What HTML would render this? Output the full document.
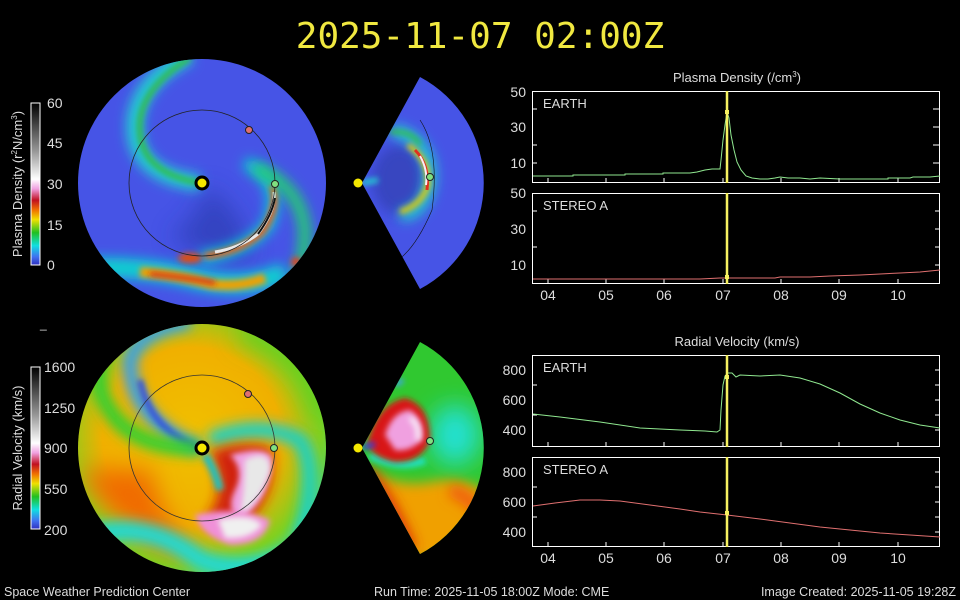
<!DOCTYPE html>
<html><head><meta charset="utf-8"><style>
html,body{margin:0;padding:0;background:#000;width:960px;height:600px;overflow:hidden}
svg{display:block}
text{font-family:"Liberation Sans",sans-serif;fill:#ddd}
</style></head><body>
<svg width="960" height="600" viewBox="0 0 960 600" xmlns="http://www.w3.org/2000/svg">
<defs>
<filter id="b3" filterUnits="userSpaceOnUse" x="0" y="0" width="960" height="600"><feGaussianBlur stdDeviation="3"/></filter>
<filter id="b6" filterUnits="userSpaceOnUse" x="0" y="0" width="960" height="600"><feGaussianBlur stdDeviation="6"/></filter>
<filter id="b12" filterUnits="userSpaceOnUse" x="0" y="0" width="960" height="600"><feGaussianBlur stdDeviation="12"/></filter>
<clipPath id="c1"><circle cx="202" cy="183" r="124"/></clipPath>
<clipPath id="c2"><circle cx="202" cy="448" r="124"/></clipPath>
<clipPath id="w1"><path d="M362,183 L420,77 A120,120 0 0 1 420,289 Z"/></clipPath>
<clipPath id="w2"><path d="M362,448 L420,342 A120,120 0 0 1 420,554 Z"/></clipPath>
<linearGradient id="cbd" x1="0" y1="0" x2="0" y2="1">
<stop offset="0" stop-color="#000"/><stop offset="0.3" stop-color="#999"/><stop offset="0.47" stop-color="#fff"/><stop offset="0.53" stop-color="#f0a0e0"/><stop offset="0.6" stop-color="#c01020"/><stop offset="0.66" stop-color="#f07000"/><stop offset="0.72" stop-color="#f0e000"/><stop offset="0.8" stop-color="#20c020"/><stop offset="0.88" stop-color="#10e0e0"/><stop offset="0.95" stop-color="#4070f0"/><stop offset="1" stop-color="#3030c0"/></linearGradient>
<radialGradient id="vbg" cx="0.45" cy="0.45" r="0.6"><stop offset="0" stop-color="#f0c000"/><stop offset="0.55" stop-color="#f0b000"/><stop offset="0.8" stop-color="#80d020"/><stop offset="1" stop-color="#20d8c0"/></radialGradient>
</defs>

<text x="480" y="48" text-anchor="middle" style="font-family:'DejaVu Sans Mono','Liberation Mono',monospace;font-size:36px;fill:#f0e840">2025-11-07 02:00Z</text>

<!-- density map -->
<g clip-path="url(#c1)">
<rect x="70" y="50" width="270" height="270" fill="#4654e6"/>
<path d="M205,185 Q250,215 250,260 Q200,260 170,235 Q200,220 205,185Z" fill="#2838a8" filter="url(#b12)" opacity="0.6"/>
<path d="M200,183 Q130,175 135,120 Q140,80 190,55" stroke="#20d0d0" stroke-width="16" fill="none" filter="url(#b6)"/>
<path d="M200,183 Q135,172 140,120 Q145,85 190,58" stroke="#30c040" stroke-width="5" fill="none" filter="url(#b3)"/>
<path d="M245,163 Q285,180 268,225 Q245,252 200,258" stroke="#10d0d0" stroke-width="12" fill="none" filter="url(#b6)"/>
<path d="M272,185 Q280,205 262,232 Q240,252 205,256" stroke="#f06010" stroke-width="6" fill="none" filter="url(#b3)"/>
<path d="M274,192 Q276,210 258,234 Q240,248 215,252" stroke="#e8e8e8" stroke-width="3" fill="none"/>
<path d="M275,198 Q272,215 258,234" stroke="#111" stroke-width="2" fill="none"/>
<path d="M255,168 Q300,185 305,230 Q305,260 295,280" stroke="#20d070" stroke-width="12" fill="none" filter="url(#b6)"/>
<circle cx="296" cy="262" r="5" fill="#e04020" filter="url(#b3)"/>
<path d="M85,268 Q150,266 200,280 Q250,290 285,272" stroke="#10d0d0" stroke-width="20" fill="none" filter="url(#b6)"/>
<path d="M140,272 Q180,275 210,284 Q240,288 265,278" stroke="#f0a000" stroke-width="10" fill="none" filter="url(#b3)"/>
<path d="M150,274 Q190,278 215,283" stroke="#d02020" stroke-width="4" fill="none" filter="url(#b3)"/>
<ellipse cx="190" cy="258" rx="12" ry="5" fill="#e05010" filter="url(#b3)"/>
</g>
<circle cx="202" cy="183" r="73" fill="none" stroke="#222" stroke-width="0.8"/>
<circle cx="202" cy="183" r="6" fill="#f5e800" stroke="#000" stroke-width="3"/>
<circle cx="249" cy="130" r="3.5" fill="#e07070" stroke="#222"/>
<circle cx="275" cy="184" r="3.5" fill="#80e080" stroke="#222"/>

<!-- density wedge -->
<g clip-path="url(#w1)">
<rect x="340" y="60" width="160" height="250" fill="#4654e6"/>
<ellipse cx="400" cy="180" rx="28" ry="35" fill="#3040b0" filter="url(#b6)" opacity="0.7"/>
<path d="M392,130 Q432,140 430,180 Q425,215 400,215" stroke="#20d0d0" stroke-width="12" fill="none" filter="url(#b6)"/>
<path d="M390,132 Q412,130 420,145" stroke="#30c040" stroke-width="4" fill="none" filter="url(#b3)"/>
<path d="M408,145 Q430,160 428,185 Q422,205 400,212" stroke="#e8d000" stroke-width="5" fill="none" filter="url(#b3)"/>
<path d="M415,150 Q430,165 427,190" stroke="#e03020" stroke-width="3" fill="none"/>
<path d="M420,156 Q428,170 426,185" stroke="#f8f0f8" stroke-width="2" fill="none"/>
<path d="M362,183 L378,180" stroke="#20d0d0" stroke-width="5" filter="url(#b3)"/>
<path d="M420,120 Q440,150 432,210 Q415,250 395,262" stroke="#111" stroke-width="0.6" fill="none"/>
</g>
<circle cx="358" cy="183" r="4.5" fill="#f5e800"/>
<circle cx="430" cy="177" r="3.5" fill="#80e080" stroke="#222"/>

<!-- velocity map -->
<g clip-path="url(#c2)">
<rect x="70" y="315" width="270" height="270" fill="url(#vbg)"/>
<path d="M80,470 Q120,540 200,560 Q160,520 150,470Z" fill="#f06a00" filter="url(#b12)"/>
<path d="M200,448 Q130,420 130,360 Q140,330 190,322" stroke="#30a0f0" stroke-width="14" fill="none" filter="url(#b6)"/>
<path d="M200,448 Q150,430 140,380" stroke="#3050e0" stroke-width="6" fill="none" filter="url(#b3)"/>
<path d="M200,448 Q120,450 100,390 Q95,350 120,330" stroke="#30d030" stroke-width="16" fill="none" filter="url(#b6)"/>
<path d="M210,440 Q260,420 300,440 Q320,470 300,540" stroke="#20d0c0" stroke-width="16" fill="none" filter="url(#b6)"/>
<path d="M240,330 Q310,350 325,420" stroke="#60d020" stroke-width="22" fill="none" filter="url(#b12)"/>
<path d="M210,452 Q240,440 270,448 Q280,490 245,525 Q215,535 205,520 Q230,490 210,452Z" fill="#d02010" filter="url(#b6)"/>
<path d="M230,455 Q265,445 272,458 Q270,500 240,520 Q225,510 235,490 Q245,470 230,455Z" fill="#f0a0e0" filter="url(#b3)"/>
<path d="M245,460 Q270,448 270,470 Q262,500 240,515 Q245,490 245,460Z" fill="#e8e8e8" filter="url(#b3)"/>
<path d="M195,515 Q240,505 270,520 Q265,545 230,545 Q200,535 195,515Z" fill="#f090d8" filter="url(#b3)"/>
<path d="M218,520 Q250,512 262,525 Q250,540 225,538Z" fill="#f0f0f0" filter="url(#b3)"/>
<path d="M90,535 Q150,520 200,560 Q250,580 320,545" stroke="#20d8d0" stroke-width="20" fill="none" filter="url(#b6)"/>
<path d="M205,455 Q215,470 220,490" stroke="#20c0c0" stroke-width="8" fill="none" filter="url(#b3)"/>
</g>
<circle cx="202" cy="448" r="73" fill="none" stroke="#333" stroke-width="0.8"/>
<circle cx="202" cy="448" r="6" fill="#f5e800" stroke="#000" stroke-width="3"/>
<circle cx="248" cy="394" r="3.5" fill="#e07070" stroke="#222"/>
<circle cx="274" cy="448" r="3.5" fill="#80e080" stroke="#222"/>

<!-- velocity wedge -->
<g clip-path="url(#w2)">
<rect x="350" y="330" width="140" height="240" fill="#30c830"/>
<ellipse cx="455" cy="435" rx="25" ry="30" fill="#20e0d0" filter="url(#b12)"/>
<path d="M370,470 Q400,490 440,480 Q480,480 490,500 L490,560 L400,560Z" fill="#f0a000" filter="url(#b6)"/>
<path d="M365,470 Q390,500 410,550" stroke="#e03010" stroke-width="14" fill="none" filter="url(#b6)"/>
<path d="M450,490 Q480,500 485,530" stroke="#f06010" stroke-width="14" fill="none" filter="url(#b6)"/>
<path d="M370,455 Q400,470 425,460" stroke="#20e0c0" stroke-width="8" fill="none" filter="url(#b3)"/>
<path d="M367,445 Q375,405 405,398 Q430,405 430,440 Q422,462 395,462 Q375,458 367,445Z" fill="#d81818" filter="url(#b3)"/>
<path d="M385,435 Q392,412 410,410 Q425,420 422,440 Q410,452 395,450Z" fill="#f0a0e0" filter="url(#b3)"/>
<path d="M410,418 Q420,425 418,440" stroke="#f8f0f8" stroke-width="5" fill="none" filter="url(#b3)"/>
<path d="M362,448 L375,444" stroke="#3040e0" stroke-width="5" filter="url(#b3)"/>
<path d="M395,385 L403,380" stroke="#40a0f0" stroke-width="5" filter="url(#b3)"/>
</g>
<circle cx="358" cy="448" r="4.5" fill="#f5e800"/>
<circle cx="430" cy="441" r="3.5" fill="#80e080" stroke="#222"/>

<!-- colorbars -->
<rect x="31" y="103" width="9" height="162" fill="url(#cbd)" stroke="#fff" stroke-width="1"/>
<g font-size="14"><text x="47" y="108">60</text><text x="47" y="148">45</text><text x="47" y="189">30</text><text x="47" y="230">15</text><text x="47" y="270">0</text></g>
<text transform="translate(22,184) rotate(-90)" text-anchor="middle" font-size="13">Plasma Density (r<tspan dy="-5" font-size="8">2</tspan><tspan dy="5">N/cm</tspan><tspan dy="-5" font-size="8">3</tspan><tspan dy="5">)</tspan></text>
<text x="40" y="328" font-size="12">_</text>
<rect x="31" y="367" width="9" height="162" fill="url(#cbd)" stroke="#fff" stroke-width="1"/>
<g font-size="14"><text x="44" y="372">1600</text><text x="44" y="413">1250</text><text x="44" y="453">900</text><text x="44" y="494">550</text><text x="44" y="535">200</text></g>
<text transform="translate(22,448) rotate(-90)" text-anchor="middle" font-size="13">Radial Velocity (km/s)</text>

<!-- plots -->
<g fill="none" stroke="#fff" stroke-width="1">
<rect x="532.5" y="91.5" width="407" height="91"/>
<rect x="532.5" y="193.5" width="407" height="90"/>
<rect x="532.5" y="355.5" width="407" height="91"/>
<rect x="532.5" y="457.5" width="407" height="89"/>
</g>
<g stroke="#fff" stroke-width="1">
<path d="M548,182v-4M606,182v-4M664,182v-4M723,182v-4M781,182v-4M839,182v-4M898,182v-4
M548,283v-4M606,283v-4M664,283v-4M723,283v-4M781,283v-4M839,283v-4M898,283v-4
M548,446v-4M606,446v-4M664,446v-4M723,446v-4M781,446v-4M839,446v-4M898,446v-4
M548,546v-4M606,546v-4M664,546v-4M723,546v-4M781,546v-4M839,546v-4M898,546v-4
M533,109h4M533,145h4M533,163h4M933,109h6M933,127h6M933,145h6M933,163h6
M533,211h4M533,247h4M935,211h4M935,229h4M935,247h4M935,265h4
M533,385h4M533,415h4M935,370h4M935,385h4M935,400h4M935,415h4M935,430h4
M533,487h4M533,517h4M935,472h4M935,487h4M935,502h4M935,517h4M935,532h4"/>
</g>
<g font-size="14" text-anchor="end">
<text x="526" y="97">50</text><text x="526" y="132">30</text><text x="526" y="168">10</text>
<text x="526" y="198">50</text><text x="526" y="234">30</text><text x="526" y="270">10</text>
<text x="526" y="375">800</text><text x="526" y="405">600</text><text x="526" y="435">400</text>
<text x="526" y="477">800</text><text x="526" y="507">600</text><text x="526" y="537">400</text>
</g>
<g font-size="14" text-anchor="middle">
<text x="548" y="300">04</text><text x="606" y="300">05</text><text x="664" y="300">06</text><text x="723" y="300">07</text><text x="781" y="300">08</text><text x="839" y="300">09</text><text x="898" y="300">10</text>
<text x="548" y="563">04</text><text x="606" y="563">05</text><text x="664" y="563">06</text><text x="723" y="563">07</text><text x="781" y="563">08</text><text x="839" y="563">09</text><text x="898" y="563">10</text>
</g>
<g font-size="13">
<text x="543" y="108">EARTH</text><text x="543" y="210">STEREO A</text>
<text x="543" y="372">EARTH</text><text x="543" y="474">STEREO A</text>
</g>
<text x="737" y="82" font-size="13" text-anchor="middle">Plasma Density (/cm<tspan dy="-5" font-size="8">3</tspan><tspan dy="5">)</tspan></text>
<text x="737" y="346" font-size="13" text-anchor="middle">Radial Velocity (km/s)</text>

<g fill="none" stroke-width="1">
<polyline stroke="#90e890" points="533,176 573,176 573,175 625,175 625,174 663,174 663,173 690,173 697,172 705,170 712,169 720,169 721,160 723,140 725,125 727,112 729,118 731,135 734,150 737,162 741,170 746,176 752,178 760,179 768,179 775,178 780,177 788,178 800,178 810,179 820,178 840,179 888,179 888,178 910,178 913,177 930,177 940,176"/>
<polyline stroke="#e07070" points="533,279 650,279 700,279 720,278 775,278 780,277 810,277 830,276 860,275 880,274 900,273 920,272 940,270"/>
<polyline stroke="#90e890" points="533,414 560,417 600,422 640,428 680,430 705,431 717,432 720,430 721,410 723,385 725,376 728,373 732,373 736,377 740,375 760,376 780,375 800,378 820,384 840,393 860,404 880,413 900,420 920,425 940,428"/>
<polyline stroke="#e07070" points="533,506 555,503 580,500 600,500 620,501 650,505 680,509 700,512 727,515 760,519 790,523 820,527 850,530 880,533 910,535 940,537"/>
</g>
<g stroke="#f5f060" stroke-width="2.5">
<line x1="727" y1="91" x2="727" y2="183"/><line x1="727" y1="193" x2="727" y2="284"/>
<line x1="727" y1="355" x2="727" y2="447"/><line x1="727" y1="457" x2="727" y2="547"/>
</g>
<g fill="#f5f060"><rect x="725" y="110" width="4" height="4"/><rect x="725" y="275" width="4" height="4"/><rect x="725" y="375" width="4" height="4"/><rect x="725" y="511" width="4" height="4"/></g>

<g font-size="12.5">
<text x="4" y="596">Space Weather Prediction Center</text>
<text x="374" y="596">Run Time: 2025-11-05 18:00Z  Mode: CME</text>
<text x="956" y="596" text-anchor="end">Image Created: 2025-11-05 19:28Z</text>
</g>
</svg>
</body></html>
